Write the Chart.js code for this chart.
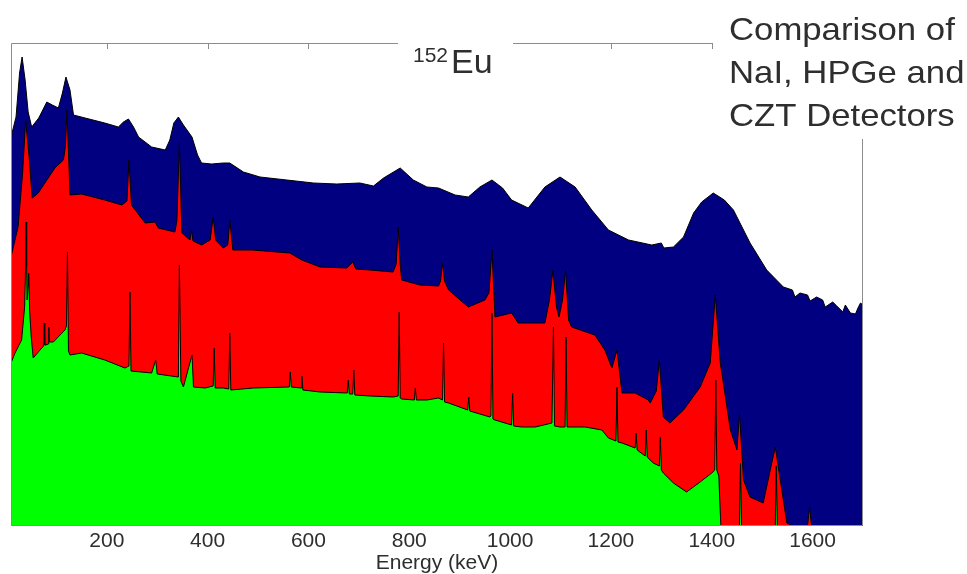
<!DOCTYPE html>
<html>
<head>
<meta charset="utf-8">
<script src="https://cdn.jsdelivr.net/npm/chart.js@4"></script>
<style>
  body { margin: 0; background: #fff; }
  canvas { display: block; }
</style>
</head>
<body>
<canvas id="spectrum" width="967" height="574"></canvas>
<script>
// 152Eu spectra, values (relative log counts, arbitrary units)
const energyTicks = [200, 400, 600, 800, 1000, 1200, 1400, 1600];

// NaI (blue)
const naiEnergy = [10, 20, 27, 32, 38, 44, 51, 65, 81, 92, 104, 112, 119, 127, 134, 157, 196, 223, 233, 243, 253, 263, 289, 316, 325, 333, 342, 352, 369, 380, 388, 408, 431, 444, 471, 504, 557, 610, 656, 702, 729, 749, 782, 808, 835, 858, 891, 917, 940, 964, 985, 1003, 1036, 1069, 1099, 1129, 1162, 1195, 1235, 1281, 1300, 1305, 1324, 1344, 1364, 1380, 1403, 1425, 1443, 1476, 1509, 1542, 1560, 1565, 1575, 1590, 1595, 1608, 1620, 1625, 1640, 1648, 1660, 1665, 1675, 1685, 1690, 1695, 1700];
const naiCounts = [389, 409, 453, 469, 446, 414, 399, 408, 424, 421, 418, 433, 449, 436, 411, 408, 403, 399, 404, 407, 399, 389, 379, 376, 386, 403, 409, 401, 389, 371, 363, 362, 363, 363, 354, 349, 346, 343, 342, 343, 340, 348, 358, 346, 339, 338, 331, 329, 339, 346, 338, 326, 318, 339, 349, 339, 316, 296, 286, 281, 283, 278, 279, 289, 313, 324, 333, 326, 316, 283, 256, 239, 236, 229, 233, 231, 225, 229, 226, 219, 224, 220, 214, 221, 213, 212, 218, 223, 221];

// CZT (red)
const cztEnergy = [10, 24, 33, 39, 46, 52, 64, 97, 114, 118, 121, 125, 127, 150, 196, 230, 240, 244, 249, 276, 296, 302, 335, 339, 344, 349, 365, 368, 371, 388, 405, 411, 416, 431, 440, 444, 450, 488, 563, 587, 623, 676, 688, 694, 722, 768, 774, 778, 782, 785, 821, 858, 862, 866, 870, 878, 917, 950, 958, 964, 968, 970, 1003, 1016, 1069, 1078, 1085, 1092, 1097, 1104, 1110, 1116, 1122, 1168, 1188, 1202, 1212, 1222, 1248, 1274, 1278, 1290, 1296, 1304, 1317, 1344, 1377, 1397, 1407, 1417, 1437, 1450, 1455, 1463, 1476, 1502, 1516, 1526, 1536, 1549, 1560, 1590, 1594, 1598, 1700];
const cztCounts = [269, 299, 353, 406, 369, 328, 333, 358, 366, 380, 416, 360, 331, 332, 326, 321, 325, 366, 321, 303, 304, 298, 294, 305, 383, 293, 286, 296, 285, 281, 286, 309, 286, 278, 281, 306, 276, 276, 273, 266, 259, 258, 264, 257, 256, 254, 262, 299, 262, 246, 241, 240, 245, 263, 245, 236, 219, 226, 233, 276, 233, 209, 213, 203, 203, 226, 256, 219, 209, 226, 256, 206, 199, 191, 176, 158, 176, 133, 133, 126, 123, 135, 166, 109, 103, 116, 139, 163, 231, 163, 96, 76, 113, 46, 29, 23, 56, 79, 46, 3, 0, 0, 19, 0, 0];

// HPGe (green)
const hpgeEnergy = [10, 18, 31, 37, 39, 40, 41, 42, 44, 45, 47, 50, 54, 71, 75, 76, 77, 79, 84, 85, 86, 94, 117, 120, 122, 124, 127, 150, 196, 236, 244, 246, 248, 289, 297, 300, 342, 344, 347, 352, 369, 372, 395, 411, 413, 415, 431, 442, 444, 446, 491, 562, 564, 566, 586, 587, 589, 623, 677, 679, 681, 688, 690, 692, 722, 768, 778, 780, 782, 785, 810, 812, 814, 835, 858, 866, 868, 870, 878, 916, 918, 920, 960, 962, 964, 966, 970, 1003, 1005, 1007, 1023, 1050, 1083, 1086, 1088, 1099, 1109, 1111, 1113, 1149, 1182, 1195, 1210, 1212, 1214, 1222, 1248, 1250, 1252, 1268, 1270, 1272, 1284, 1296, 1298, 1300, 1304, 1324, 1350, 1377, 1400, 1406, 1408, 1410, 1414, 1418, 1455, 1457, 1459, 1526, 1528, 1530, 1700];
const hpgeCounts = [163, 173, 186, 219, 260, 304, 260, 226, 240, 253, 215, 190, 168, 178, 180, 203, 181, 181, 182, 199, 184, 184, 196, 200, 274, 175, 171, 173, 166, 158, 160, 234, 155, 153, 166, 152, 149, 261, 145, 139, 171, 139, 138, 140, 178, 138, 138, 137, 193, 136, 138, 139, 154, 139, 138, 150, 136, 134, 133, 146, 132, 132, 156, 131, 130, 129, 130, 214, 128, 127, 126, 138, 126, 126, 128, 126, 183, 124, 123, 116, 129, 115, 109, 110, 213, 107, 106, 101, 133, 100, 99, 99, 103, 199, 100, 99, 99, 189, 99, 99, 96, 88, 85, 139, 84, 83, 78, 93, 76, 70, 96, 69, 63, 60, 89, 56, 53, 43, 34, 44, 53, 56, 146, 56, 50, 0, 0, 63, 0, 0, 60, 0, 0];

const toPoints = (xs, ys) => xs.map((x, i) => ({ x, y: ys[i] }));

const FRAME = '#8c8c8c';
const TEXT = '#2e2e2e';
const FONT = '"Liberation Sans", Arial, sans-serif';

// text in the source is a touch wider than Liberation Sans, so stretch it a little
function wideText(ctx, text, x, y, stretch) {
    ctx.save();
    ctx.translate(x, y);
    ctx.scale(stretch, 1);
    ctx.fillText(text, 0, 0);
    ctx.restore();
}

// axes box, inward ticks on top, and the white label boxes
const framePlugin = {
    id: 'frame',
    afterDatasetsDraw(chart) {
        const { ctx, chartArea: a, scales: { x } } = chart;
        ctx.save();
        ctx.strokeStyle = FRAME;
        ctx.lineWidth = 1;
        ctx.beginPath();
        ctx.moveTo(a.left + 0.5, a.bottom - 0.5);
        ctx.lineTo(a.left + 0.5, a.top + 0.5);
        ctx.lineTo(a.right - 0.5, a.top + 0.5);
        ctx.lineTo(a.right - 0.5, a.bottom - 0.5);
        ctx.lineTo(a.left + 0.5, a.bottom - 0.5);
        x.ticks.forEach(t => {
            const px = Math.round(x.getPixelForValue(t.value)) + 0.5;
            ctx.moveTo(px, a.top);
            ctx.lineTo(px, a.top + 6);
        });
        ctx.stroke();
        ctx.restore();
    },
    afterDraw(chart) {
        const { ctx } = chart;
        ctx.save();
        ctx.fillStyle = '#fff';
        ctx.fillRect(398, 28, 115, 50);
        ctx.fillRect(713, 0, 254, 139);

        ctx.fillStyle = TEXT;
        ctx.textBaseline = 'alphabetic';
        ctx.font = '21px ' + FONT;
        ctx.fillText('152', 413, 62);
        ctx.font = '34px ' + FONT;
        ctx.fillText('Eu', 451, 73);

        ctx.font = '32px ' + FONT;
        ['Comparison of', 'NaI, HPGe and', 'CZT Detectors'].forEach((line, i) => {
            wideText(ctx, line, 729, 40 + i * 43, 1.085);
        });
        ctx.restore();
    }
};

const series = [
    { label: 'HPGe', energy: hpgeEnergy, counts: hpgeCounts, color: '#00ff00' },
    { label: 'CZT', energy: cztEnergy, counts: cztCounts, color: '#ff0000' },
    { label: 'NaI', energy: naiEnergy, counts: naiCounts, color: '#000080' },
];

new Chart(document.getElementById('spectrum'), {
    type: 'line',
    data: {
        datasets: series.map(s => ({
            label: s.label,
            data: toPoints(s.energy, s.counts),
            borderColor: '#000',
            borderWidth: 1,
            backgroundColor: s.color,
            fill: 'origin',
            pointRadius: 0,
            tension: 0,
        })),
    },
    options: {
        responsive: false,
        animation: false,
        layout: { padding: { left: 11, top: 43, right: 104, bottom: 0 } },
        plugins: {
            legend: { display: false },
            tooltip: { enabled: false },
        },
        scales: {
            x: {
                type: 'linear',
                min: 10,
                max: 1700,
                afterBuildTicks: s => { s.ticks = energyTicks.map(v => ({ value: v })); },
                afterFit: s => { s.height = 48; },
                grid: { display: false, drawTicks: false },
                border: { display: false },
                ticks: {
                    color: TEXT,
                    padding: 3,
                    maxRotation: 0,
                    callback: v => String(v),
                    font: { family: FONT, size: 21 },
                },
                title: {
                    display: true,
                    text: 'Energy (keV)',
                    color: TEXT,
                    padding: { top: 0, bottom: -2 },
                    font: { family: FONT, size: 21 },
                },
            },
            y: {
                display: false,
                min: 0,
                max: 483,
            },
        },
    },
    plugins: [framePlugin],
});
</script>
</body>
</html>
